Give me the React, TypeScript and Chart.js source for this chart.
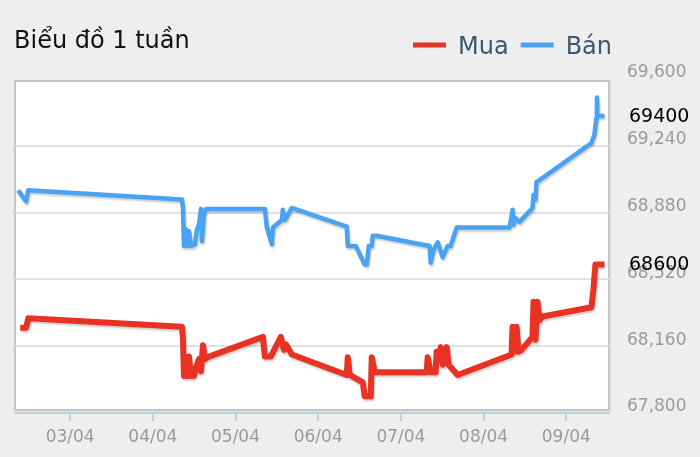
import { useEffect, useRef } from "react";
import { Chart, registerables } from "chart.js";

Chart.register(...registerables);

const chartTitle = "Biểu đồ 1 tuần";
const seriesNames = ["Mua", "Bán"];
const seriesColors = ["#e83223", "#4aa3f2"];

// x: hours since 03/04 00:00
const xTickHours = [0, 24, 48, 72, 96, 120, 144];
const xTickLabels = ["03/04", "04/04", "05/04", "06/04", "07/04", "08/04", "09/04"];
const yTickValues = [67800, 68160, 68520, 68880, 69240, 69600];

const buyHours = [
  -14.49, -12.75, -12.17, 32.46, 32.75, 33.04, 33.91, 34.49, 35.07, 35.94, 36.52, 37.39, 37.97, 38.55,
  39.13, 39.71, 55.94, 56.52, 58.26, 61.16, 62.03, 62.61, 64.35, 80.29, 80.58, 81.16, 84.93, 85.51,
  87.25, 87.54, 88.41, 103.48, 103.77, 104.64, 106.09, 106.38, 106.96, 107.54, 108.12, 109.28, 109.86,
  112.46, 128.12, 128.41, 128.99, 129.57, 130.14, 131.01, 134.2, 134.49, 135.07, 135.65, 136.23, 137.1,
  151.3, 151.88, 152.46, 155.07,
];
const buyValues = [
  68260, 68260, 68310, 68265, 68200, 68000, 68000, 68105, 68000, 68000, 68045, 68090, 68025, 68165,
  68090, 68100, 68210, 68105, 68105, 68210, 68140, 68170, 68115, 68005, 68100, 68005, 67965, 67890,
  67890, 68100, 68020, 68020, 68100, 68020, 68020, 68130, 68090, 68155, 68060, 68155, 68060,
  68005, 68115, 68265, 68130, 68265, 68130, 68140, 68210, 68400, 68195, 68400, 68300, 68320,
  68370, 68465, 68600, 68600,
];

const sellHours = [
  -15.07, -12.75, -12.17, 32.46, 32.75, 33.04, 33.62, 33.91, 34.49, 35.07, 36.23, 36.81, 37.39, 37.97,
  38.26, 38.84, 39.42, 56.52, 57.1, 58.55, 58.84, 61.45, 61.74, 62.32, 64.35, 80.29, 80.58, 82.9,
  85.51, 86.09, 86.67, 87.54, 87.83, 88.99, 104.35, 104.64, 105.51, 106.67, 108.12, 109.57, 110.43,
  112.17, 127.54, 128.12, 128.41, 128.7, 129.28, 130.43, 134.2, 134.49, 135.07, 135.36, 136.23,
  151.3, 152.17, 152.75, 152.9, 153.04, 155.07,
];
const sellValues = [
  69000, 68940, 69000, 68950, 68905, 68700, 68790, 68700, 68780, 68700, 68710, 68790, 68815, 68900,
  68725, 68865, 68900, 68900, 68800, 68710, 68800, 68840, 68895, 68840, 68905, 68805, 68700, 68700,
  68600, 68600, 68700, 68700, 68755, 68755, 68700, 68610, 68680, 68720, 68640, 68700, 68700,
  68800, 68800, 68860, 68895, 68815, 68850, 68830, 68905, 68975, 68950, 69045, 69055,
  69255, 69300, 69390, 69500, 69400, 69400,
];

const FONT = "DejaVu Sans";

const framePlugin = {
  id: "frame",
  beforeDraw(chart: any) {
    const ctx = chart.ctx;
    ctx.save();
    ctx.fillStyle = "#eeeeee";
    ctx.fillRect(0, 0, chart.width, chart.height);
    const a = chart.chartArea;
    const l = a.left, r = a.right, t = a.top + 2, b = a.bottom - 3;
    ctx.shadowColor = "rgba(0,0,0,0.12)";
    ctx.shadowBlur = 3;
    ctx.shadowOffsetX = 1;
    ctx.shadowOffsetY = 1;
    ctx.fillStyle = "#ffffff";
    ctx.fillRect(l, t, r - l, b - t);
    ctx.shadowColor = "transparent";
    ctx.strokeStyle = "#c6c6c6";
    ctx.lineWidth = 2;
    ctx.strokeRect(l, t, r - l, b - t);
    ctx.restore();
  },
  afterDraw(chart: any) {
    const ctx = chart.ctx;
    ctx.save();
    // title
    ctx.fillStyle = "#111111";
    ctx.font = `24px ${FONT}`;
    ctx.textBaseline = "alphabetic";
    ctx.textAlign = "left";
    ctx.fillText(chartTitle, 14, 48);
    // legend
    ctx.font = `24px ${FONT}`;
    let x = 413;
    chart.data.datasets.forEach((ds: any) => {
      ctx.strokeStyle = ds.borderColor;
      ctx.lineWidth = 5;
      ctx.beginPath();
      ctx.moveTo(x, 45);
      ctx.lineTo(x + 33, 45);
      ctx.stroke();
      ctx.fillStyle = "#3e576f";
      ctx.fillText(ds.label, x + 45, 54);
      x += 45 + ctx.measureText(ds.label).width + 12;
    });
    // last value labels
    ctx.font = `19px ${FONT}`;
    ctx.fillStyle = "#000000";
    ctx.textBaseline = "middle";
    const ys = chart.scales.y;
    chart.data.datasets.forEach((ds: any) => {
      const last = ds.data[ds.data.length - 1];
      ctx.fillText(String(last.y), 629, ys.getPixelForValue(last.y) + 1);
    });
    ctx.restore();
  },
  beforeDatasetDraw(chart: any) {
    const ctx = chart.ctx;
    ctx.save();
    ctx.shadowColor = "rgba(0,0,0,0.2)";
    ctx.shadowBlur = 2;
    ctx.shadowOffsetX = 1;
    ctx.shadowOffsetY = 2;
  },
  afterDatasetDraw(chart: any) {
    chart.ctx.restore();
  },
};

export default function App() {
  const ref = useRef<HTMLCanvasElement>(null);
  useEffect(() => {
    document.body.style.margin = "0";
    document.body.style.background = "#eeeeee";
    const buy = buyHours.map((h, i) => ({ x: h, y: buyValues[i] }));
    const sell = sellHours.map((h, i) => ({ x: h, y: sellValues[i] }));
    const chart = new Chart(ref.current as HTMLCanvasElement, {
      type: "line",
      data: {
        datasets: [
          {
            label: seriesNames[0],
            data: buy,
            borderColor: seriesColors[0],
            backgroundColor: seriesColors[0],
            borderWidth: 6,
            pointRadius: 0,
            tension: 0,
            borderJoinStyle: "round",
          },
          {
            label: seriesNames[1],
            data: sell,
            borderColor: seriesColors[1],
            backgroundColor: seriesColors[1],
            borderWidth: 4.5,
            pointRadius: 0,
            tension: 0,
            borderJoinStyle: "round",
          },
        ],
      },
      options: {
        responsive: false,
        animation: false,
        devicePixelRatio: 1,
        layout: { padding: { left: 15, top: 79, right: 0, bottom: 0 } },
        plugins: { legend: { display: false }, title: { display: false }, tooltip: { enabled: false } },
        font: { family: FONT },
        scales: {
          x: {
            type: "linear",
            min: -16,
            max: 156.4,
            afterBuildTicks: (s: any) => {
              s.ticks = xTickHours.map((v) => ({ value: v }));
            },
            afterFit: (s: any) => {
              s.height = 44;
            },
            ticks: {
              autoSkip: false,
              maxRotation: 0,
              padding: 6,
              color: "#999999",
              font: { family: FONT, size: 17 },
              callback: (v: any) => {
                const i = xTickHours.indexOf(Number(v));
                return i >= 0 ? xTickLabels[i] : "";
              },
            },
            grid: {
              drawOnChartArea: false,
              drawTicks: true,
              tickLength: 8,
              color: "#c0d0e0",
              lineWidth: 2,
            },
            border: { display: true, color: "#c0d0e0", width: 2 },
          },
          y: {
            type: "linear",
            position: "right",
            min: 67800,
            max: 69600,
            afterBuildTicks: (s: any) => {
              s.ticks = yTickValues.map((v) => ({ value: v }));
            },
            afterFit: (s: any) => {
              s.width = 91;
            },
            ticks: {
              padding: 18,
              labelOffset: -6,
              color: "#999999",
              font: { family: FONT, size: 17 },
              callback: (v: any) => Number(v).toLocaleString("en-US"),
            },
            grid: {
              drawTicks: false,
              lineWidth: 2,
              color: (c: any) =>
                c.tick && (c.tick.value === 67800 || c.tick.value === 69600) ? "rgba(0,0,0,0)" : "#e2e2e2",
            },
            border: { display: false },
          },
        },
      } as any,
      plugins: [framePlugin],
    });
    return () => chart.destroy();
  }, []);
  return (
    <div style={{ width: 700, height: 457, background: "#eeeeee" }}>
      <canvas ref={ref} width={700} height={457} style={{ display: "block", width: 700, height: 457 }} />
    </div>
  );
}
